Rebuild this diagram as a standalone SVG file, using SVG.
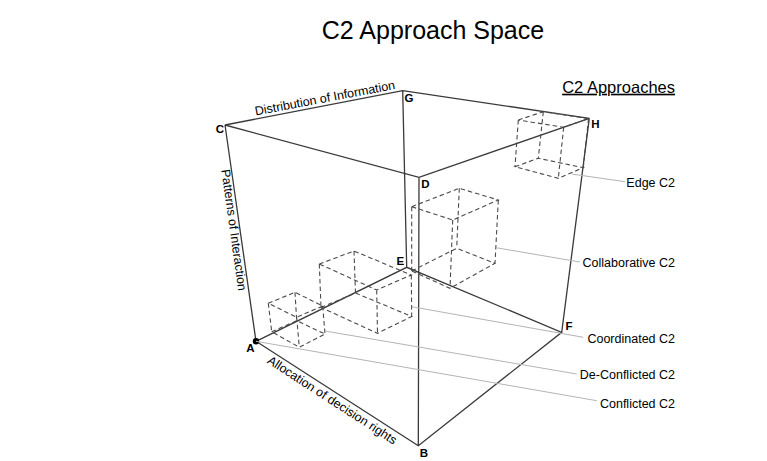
<svg xmlns="http://www.w3.org/2000/svg" width="767" height="461" viewBox="0 0 767 461">
<style>
text{font-family:"Liberation Sans",Arial,sans-serif;fill:#000}
.title{font-size:25px}
.head{font-size:16.5px;text-decoration:underline}
.lab{font-size:12.5px}
.axis{font-size:12.5px}
.v{font-size:11.5px;font-weight:bold;text-anchor:middle}
.edge{fill:none;stroke:#3a3a3a;stroke-width:1.3}
.cube{fill:none;stroke:#4a4a4a;stroke-width:1.1;stroke-dasharray:4.5,3}
.leader{fill:none;stroke:#b4b4b4;stroke-width:1}
</style>
<rect width="767" height="461" fill="#fff"/>
<text class="title" x="433" y="38.5" text-anchor="middle">C2 Approach Space</text>
<text class="head" x="675" y="92.7" text-anchor="end">C2 Approaches</text>

<g id="space-cube">
<path class="edge" d="M256,341.3 L418.3,445.7 L561.7,332.3 L406.7,267.3 Z M225,125 L402.7,90.7 L589.3,118.3 L419,177.3 Z M256,341.3 L225,125 M418.3,445.7 L419,177.3 M561.7,332.3 L589.3,118.3 M406.7,267.3 L402.7,90.7"/>
<circle cx="256" cy="341.3" r="3.2" fill="#000"/>
<text class="v" x="250.5" y="352">A</text>
<text class="v" x="424" y="456.7">B</text>
<text class="v" x="220" y="132.7">C</text>
<text class="v" x="425.5" y="188">D</text>
<text class="v" x="400.3" y="265.3">E</text>
<text class="v" x="569" y="330">F</text>
<text class="v" x="409" y="102.3">G</text>
<text class="v" x="595.5" y="127.7">H</text>
<text class="axis" text-anchor="middle" transform="translate(325.7,102.2) rotate(-10.8)">Distribution of Information</text>
<text class="axis" text-anchor="middle" transform="translate(229.8,230.6) rotate(82)">Patterns of Interaction</text>
<text class="axis" text-anchor="middle" transform="translate(330,403.7) rotate(33)">Allocation of decision rights</text>
</g>

<g id="deconflicted-cube">
<path class="cube" d="M268.3,303.3 L295,292.3 L322.7,306 L296.7,317.3 Z M271.7,331.7 L296.7,320.7 L325,334 L299.3,347.3 Z M268.3,303.3 L271.7,331.7 M295,292.3 L296.7,320.7 M322.7,306 L325,334 M296.7,317.3 L299.3,347.3"/>
</g>
<g id="coordinated-cube">
<path class="cube" d="M319.3,264 L354,251 L411.3,275 L376.7,290 Z M321,307.5 L355.5,293 L411.7,316.5 L377.5,333.3 Z M319.3,264 L321,307.5 M354,251 L355.5,293 M411.3,275 L411.7,316.5 M376.7,290 L377.5,333.3"/>
</g>
<g id="collaborative-cube">
<path class="cube" d="M411.7,206.7 L459.3,188.3 L498.3,200 L452.7,220 Z M411.7,271 L456.7,248.3 L495,263.3 L450,288.3 Z M411.7,206.7 L411.7,271 M459.3,188.3 L456.7,248.3 M498.3,200 L495,263.3 M452.7,220 L450,288.3"/>
</g>
<g id="edge-cube">
<path class="cube" d="M518.3,120 L543.3,111.7 L588.5,118.6 L563.7,127.3 Z M515,166.7 L538.3,158.3 L583.3,167.7 L558.3,178.3 Z M518.3,120 L515,166.7 M543.3,111.7 L538.3,158.3 M588.5,118.6 L583.3,167.7 M563.7,127.3 L558.3,178.3"/>
</g>

<g id="connectors">
<path class="leader" d="M571.7,174 L625,181.7"/>
<path class="leader" d="M496,247.7 L580,262"/>
<path class="leader" d="M411.7,306.7 L583.3,337.3"/>
<path class="leader" d="M325,331 L576.7,374"/>
<path class="leader" d="M256,341.3 L596.7,400.7"/>
</g>

<g id="labels">
<text class="lab" x="675" y="187.3" text-anchor="end">Edge C2</text>
<text class="lab" x="675" y="267" text-anchor="end">Collaborative C2</text>
<text class="lab" x="675" y="342.7" text-anchor="end">Coordinated C2</text>
<text class="lab" x="675" y="379" text-anchor="end">De-Conflicted C2</text>
<text class="lab" x="675" y="408.3" text-anchor="end">Conflicted C2</text>
</g>
</svg>
